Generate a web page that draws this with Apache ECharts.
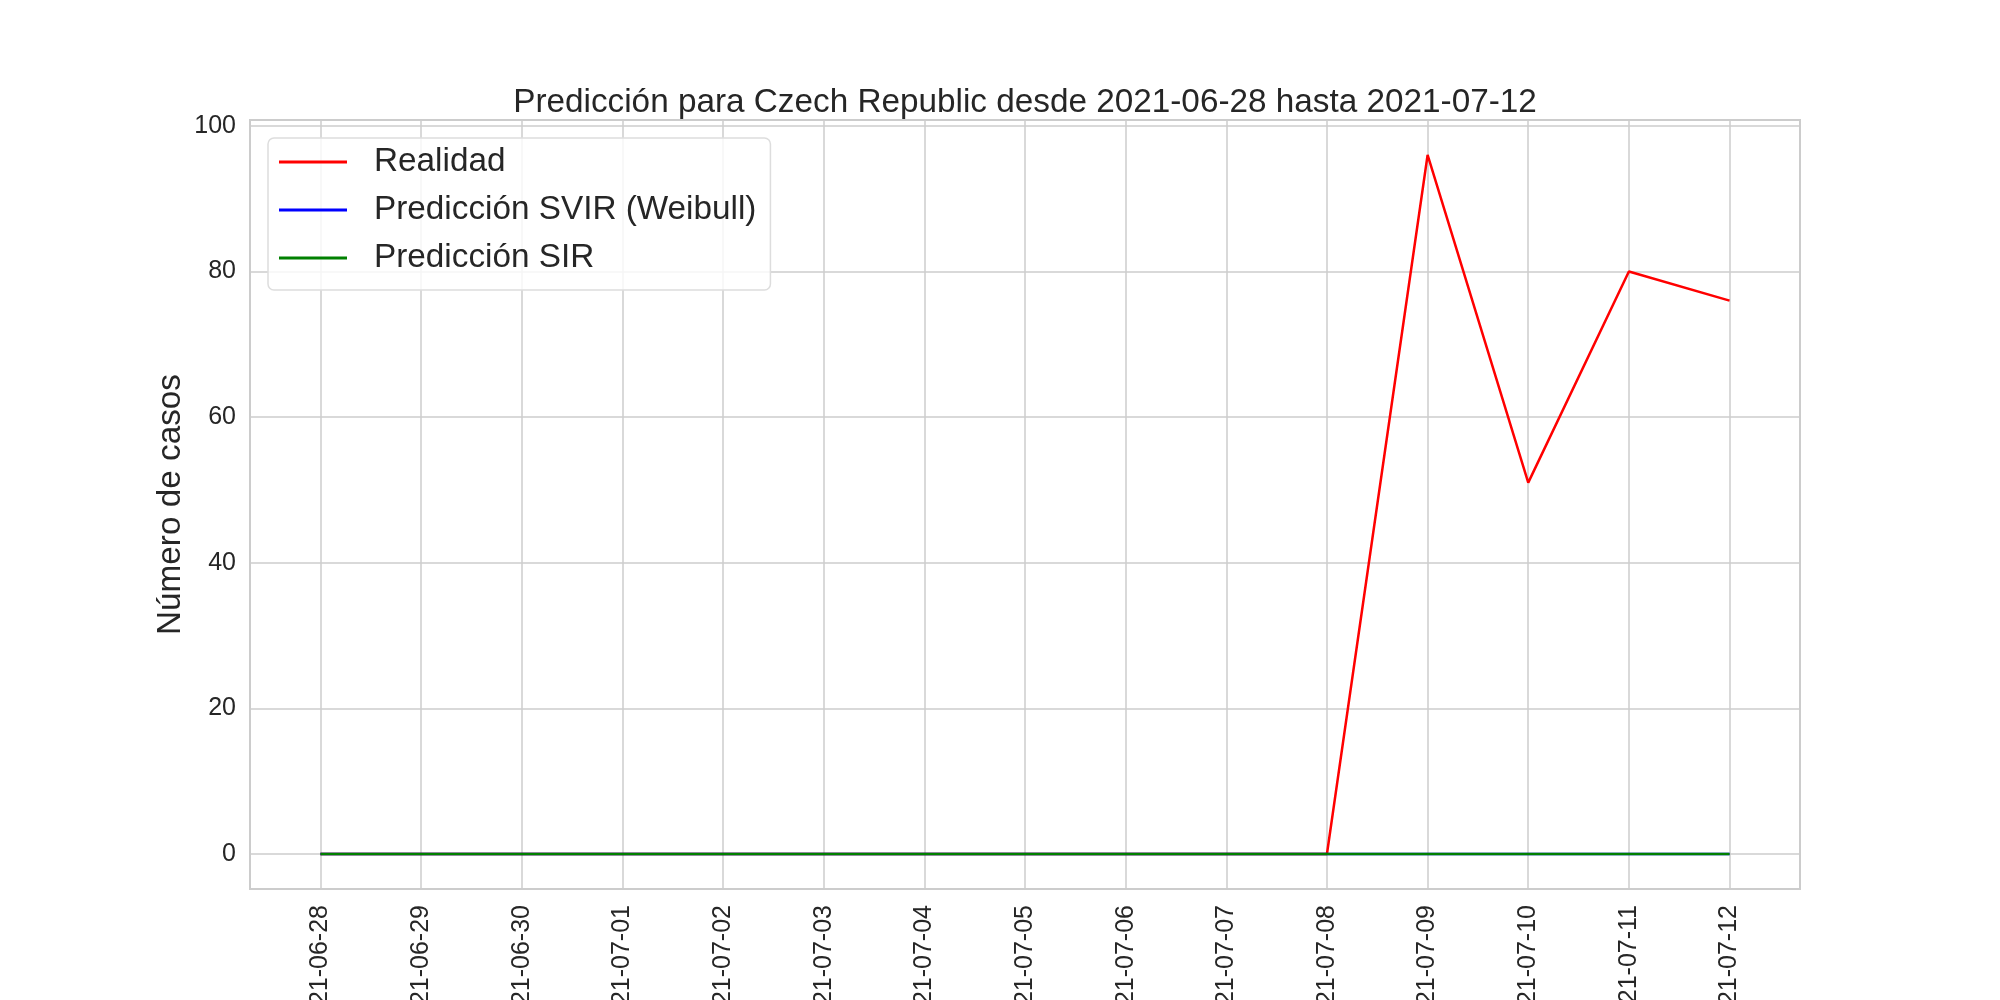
<!DOCTYPE html>
<html>
<head>
<meta charset="utf-8">
<script src="https://cdn.jsdelivr.net/npm/echarts@6/dist/echarts.min.js"></script>
<style>
  html, body { margin: 0; padding: 0; background: #fff; }
  #chart { width: 2000px; height: 1000px; }
</style>
</head>
<body>
<div id="chart"></div>
<script>
var fechas = ['2021-06-28', '2021-06-29', '2021-06-30', '2021-07-01', '2021-07-02',
    '2021-07-03', '2021-07-04', '2021-07-05', '2021-07-06', '2021-07-07',
    '2021-07-08', '2021-07-09', '2021-07-10', '2021-07-11', '2021-07-12'];
var realidad = [0, 0, 0, 0, 0, 0, 0, 0, 0, 0, 0, 96, 51, 80, 76];
var prediccionSVIR = [0, 0, 0, 0, 0, 0, 0, 0, 0, 0, 0, 0, 0, 0, 0];
var prediccionSIR = [0, 0, 0, 0, 0, 0, 0, 0, 0, 0, 0, 0, 0, 0, 0];
var yTicks = [0, 20, 40, 60, 80, 100];

var fuente = "'Liberation Sans', Arial, sans-serif";
var texto = '#262626';

function pares(valores) {
    return valores.map(function (v, i) { return [i, v]; });
}
var xTicks = fechas.map(function (f, i) { return i; });

var myChart = echarts.init(document.getElementById('chart'));

var option = {
    animation: false,
    backgroundColor: '#ffffff',
    textStyle: { fontFamily: fuente, color: texto },
    title: {
        text: 'Predicción para Czech Republic desde ' + fechas[0] + ' hasta ' + fechas[fechas.length - 1],
        left: 1025,
        textAlign: 'center',
        top: 86,
        padding: 0,
        textStyle: { fontFamily: fuente, fontSize: 33.3, fontWeight: 'normal', color: texto }
    },
    legend: {
        orient: 'vertical',
        left: 268,
        top: 138,
        padding: [5, 14, 13, 11],
        itemGap: 10,
        itemWidth: 68,
        itemHeight: 3,
        icon: 'rect',
        backgroundColor: 'rgba(255,255,255,0.8)',
        borderColor: '#dddddd',
        borderWidth: 1.5,
        borderRadius: 6,
        textStyle: {
            fontFamily: fuente, fontSize: 33.3, color: texto,
            lineHeight: 38, padding: [0, 0, 0, 22]
        },
        data: ['Realidad', 'Predicción SVIR (Weibull)', 'Predicción SIR']
    },
    grid: {
        left: 250,
        right: 200,
        top: 120,
        bottom: 111,
        show: true,
        borderColor: '#cccccc',
        borderWidth: 2,
        containLabel: false,
        outerBoundsMode: 'none'
    },
    xAxis: {
        type: 'value',
        min: -0.7,
        max: 14.7,
        axisLine: { show: false },
        axisTick: { show: false, customValues: xTicks },
        splitLine: { show: true, lineStyle: { color: '#cccccc', width: 1.5 } },
        axisLabel: {
            customValues: xTicks,
            rotate: 90,
            margin: 16,
            fontFamily: fuente,
            fontSize: 25,
            color: texto,
            formatter: function (v) { return fechas[Math.round(v)]; }
        }
    },
    yAxis: {
        type: 'value',
        min: -4.8,
        max: 100.8,
        name: 'Número de casos',
        nameLocation: 'middle',
        nameGap: 79,
        nameMoveOverlap: false,
        nameTextStyle: {
            fontFamily: fuente, fontSize: 33.3, color: texto,
            align: 'center', verticalAlign: 'middle'
        },
        axisLine: { show: false },
        axisTick: { show: false, customValues: yTicks },
        splitLine: { show: true, lineStyle: { color: '#cccccc', width: 1.5 } },
        axisLabel: {
            customValues: yTicks,
            margin: 14,
            fontFamily: fuente,
            fontSize: 25,
            color: texto
        }
    },
    series: [
        {
            name: 'Realidad',
            type: 'line',
            symbol: 'none',
            data: pares(realidad),
            lineStyle: { color: '#ff0000', width: 2.5 },
            itemStyle: { color: '#ff0000' }
        },
        {
            name: 'Predicción SVIR (Weibull)',
            type: 'line',
            symbol: 'none',
            data: pares(prediccionSVIR),
            lineStyle: { color: '#0000ff', width: 2.5 },
            itemStyle: { color: '#0000ff' }
        },
        {
            name: 'Predicción SIR',
            type: 'line',
            symbol: 'none',
            data: pares(prediccionSIR),
            lineStyle: { color: '#008000', width: 2.5 },
            itemStyle: { color: '#008000' }
        }
    ]
};

myChart.setOption(option);
window.addEventListener('resize', function () {
    myChart.resize();
});
</script>
</body>
</html>
